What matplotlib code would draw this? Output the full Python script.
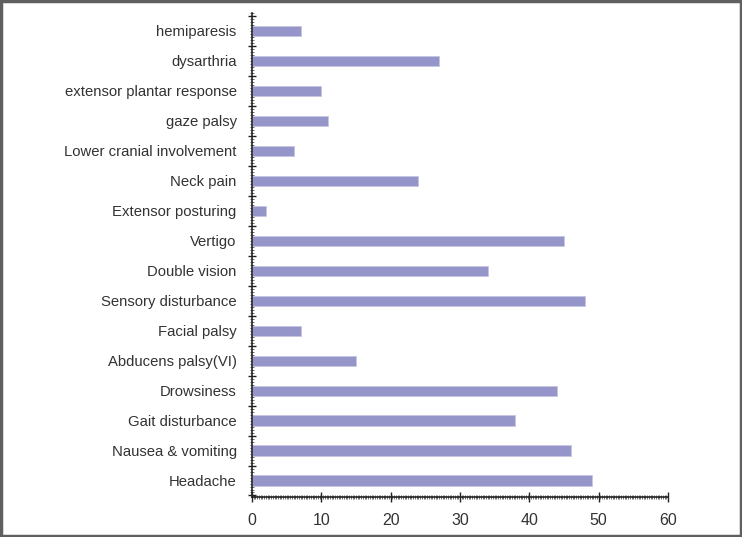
import matplotlib
matplotlib.use("Agg")
import matplotlib.pyplot as plt
from matplotlib.patches import Rectangle
from matplotlib.ticker import MultipleLocator, FixedLocator

plt.rcParams['font.family'] = ['Liberation Sans', 'DejaVu Sans']

# Data (bottom to top)
symptoms = ['Headache', 'Nausea & vomiting', 'Gait disturbance', 'Drowsiness',
            'Abducens palsy(VI)', 'Facial palsy', 'Sensory disturbance',
            'Double vision', 'Vertigo', 'Extensor posturing', 'Neck pain',
            'Lower cranial involvement', 'gaze palsy', 'extensor plantar response',
            'dysarthria', 'hemiparesis']
counts = [49, 46, 38, 44, 15, 7, 48, 34, 45, 2, 24, 6, 11, 10, 27, 7]
x_ticks = [0, 10, 20, 30, 40, 50, 60]

fig = plt.figure(figsize=(7.42, 5.37), dpi=100)
ax = fig.add_axes([0.3396, 0.0745, 0.5607, 0.9013])

ypos = list(range(len(symptoms)))
ax.barh(ypos, counts, height=0.34, color='#9595c9', edgecolor='#c6c6e4', linewidth=0.6)

# Axes limits & ticks
ax.set_xlim(0, 60)
ax.set_ylim(-0.55, 15.6)
ax.set_xticks(x_ticks)
ax.xaxis.set_minor_locator(MultipleLocator(0.25))
ax.set_yticks(ypos)
ax.set_yticklabels(symptoms)
ax.yaxis.set_minor_locator(FixedLocator([i + 0.5 for i in range(-1, len(symptoms))]))

ax.tick_params(axis='y', which='major', length=0, pad=11, labelsize=10.7, labelcolor='#333333')
ax.tick_params(axis='y', which='minor', length=6, width=1, direction='inout', color='#222222')
ax.tick_params(axis='x', which='major', length=7, width=1, direction='inout', pad=8,
               labelsize=11.5, labelcolor='#333333', color='#222222')
ax.tick_params(axis='x', which='minor', length=3, width=0.5, direction='inout', color='#333333')

# Ruler-like dense ticks on the y axis line
ruler = ax.secondary_yaxis('left')
ruler.yaxis.set_major_locator(MultipleLocator(0.1))
ruler.tick_params(length=3, width=0.5, direction='inout', labelleft=False, color='#333333')
ruler.spines['left'].set_visible(False)

for side in ['top', 'right']:
    ax.spines[side].set_visible(False)
for side in ['left', 'bottom']:
    ax.spines[side].set_linewidth(1.2)
    ax.spines[side].set_color('#222222')

# Gray frame around the figure
fig.patches.append(Rectangle((0.0015, 0.002), 0.997, 0.996, transform=fig.transFigure,
                             fill=False, edgecolor='#606060', linewidth=2.5))

fig.savefig('out.png', dpi=100)
